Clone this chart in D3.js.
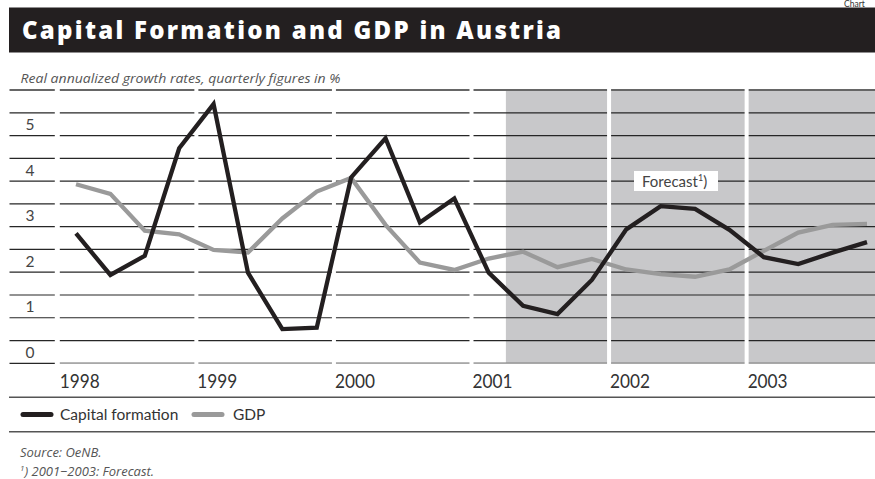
<!DOCTYPE html>
<html>
<head>
<meta charset="utf-8">
<script src="https://cdn.jsdelivr.net/npm/d3@7"></script>
<style>
  html, body { margin: 0; padding: 0; background: #fff; overflow: hidden; }
  svg { display: block; }
</style>
</head>
<body>
<svg id="chart" width="875" height="479"></svg>
<script>
// Quarterly series, 1998 Q1 – 2003 Q4 (real annualized growth, %)
const years = [1998, 1999, 2000, 2001, 2002, 2003];
const quarterLabels = years.flatMap(y => ["Q1", "Q2", "Q3", "Q4"].map(q => `${y} ${q}`));
const capitalFormation = [
  2.85, 1.94, 2.36, 4.72,
  5.69, 1.99, 0.75, 0.78,
  4.08, 4.94, 3.09, 3.62,
  1.99, 1.26, 1.08, 1.83,
  2.94, 3.45, 3.39, 2.93,
  2.33, 2.18, 2.43, 2.66
];
const gdp = [
  3.93, 3.72, 2.91, 2.83,
  2.49, 2.43, 3.18, 3.77,
  4.07, 3.04, 2.21, 2.05,
  2.30, 2.45, 2.11, 2.29,
  2.06, 1.96, 1.90, 2.06,
  2.47, 2.87, 3.04, 3.06
];
const yTickLabels = [0, 1, 2, 3, 4, 5];
const gridValues = d3.range(0, 6.01, 0.5);
const forecastFrom = 2001.25;   // shaded forecast period starts with 2001 Q2
const seriesNames = ["Capital formation", "GDP"];

const svg = d3.select("#chart");
const W = 875;

const x = d3.scaleLinear().domain([1998, 2004]).range([58.8, 884.2]);
const y = d3.scaleLinear().domain([0, 6]).range([363.3, 90]);
const xq = i => x(1998 + (i + 0.5) / 4);

const sans = "Lato, 'Open Sans', sans-serif";

// "Chart" tag at the top right
svg.append("text").attr("x", 844).attr("y", 6.5)
  .attr("font-family", sans).attr("font-size", 8.5).attr("fill", "#333")
  .text("Chart");

// Title bar
svg.append("rect").attr("x", 9).attr("y", 7.5).attr("width", W - 9).attr("height", 45)
  .attr("fill", "#231f20");
svg.append("text").attr("x", 22).attr("y", 38.5)
  .attr("font-family", "'Open Sans', sans-serif").attr("font-weight", 800).attr("font-size", 24)
  .attr("fill", "#fff").attr("textLength", 539).attr("lengthAdjust", "spacing")
  .text("Capital Formation and GDP in Austria");

// Subtitle
svg.append("text").attr("x", 20.5).attr("y", 83)
  .attr("font-family", "'Open Sans', sans-serif").attr("font-style", "italic")
  .attr("font-size", 13.5).attr("fill", "#555")
  .attr("textLength", 320).attr("lengthAdjust", "spacingAndGlyphs")
  .text("Real annualized growth rates, quarterly figures in %");

// Forecast shading
svg.append("rect")
  .attr("x", x(forecastFrom)).attr("y", y(6))
  .attr("width", W - x(forecastFrom)).attr("height", y(0) - y(6))
  .attr("fill", "#c8c8ca");

// Horizontal grid
svg.append("g").selectAll("line").data(gridValues).join("line")
  .attr("x1", 9.5).attr("x2", W)
  .attr("y1", d => y(d)).attr("y2", d => y(d))
  .attr("stroke", d => d === 6 ? "#666" : "#262626")
  .attr("stroke-width", d => d === 6 ? 1.8 : 1.2);
// lighter axis line under the plot
svg.append("line").attr("x1", 58).attr("x2", W).attr("y1", y(0)).attr("y2", y(0))
  .attr("stroke", "#a8a8a8").attr("stroke-width", 1.6);

// White year separators cutting the grid
const sepYears = years.slice(1);
svg.append("g").selectAll("rect").data(sepYears).join("rect")
  .attr("x", d => x(d) - 2).attr("width", 4)
  .attr("y", y(6) - 2).attr("height", y(0) - y(6) + 4)
  .attr("fill", "#fff");
svg.append("rect").attr("x", x(1998) - 4).attr("width", 5)
  .attr("y", y(6) - 2).attr("height", y(0) - y(6) + 4).attr("fill", "#fff");

// Y tick labels, sitting just above their grid line
svg.append("g").selectAll("text").data(yTickLabels).join("text")
  .attr("x", 30).attr("y", d => y(d) - 5.5)
  .attr("text-anchor", "middle")
  .attr("font-family", sans).attr("font-size", 15.5).attr("fill", "#444")
  .text(d => d);

// Year labels
svg.append("g").selectAll("text").data(years).join("text")
  .attr("x", d => x(d) + 1).attr("y", 388)
  .attr("font-family", sans).attr("font-size", 19).attr("fill", "#333")
  .attr("textLength", 40).attr("lengthAdjust", "spacingAndGlyphs")
  .text(d => d);

// Forecast label
const fl = svg.append("g");
fl.append("rect").attr("x", 634).attr("y", 171).attr("width", 84).attr("height", 20)
  .attr("fill", "#fff");
const ft = fl.append("text").attr("x", 642).attr("y", 186.5)
  .attr("font-family", sans).attr("font-size", 15).attr("fill", "#444");
ft.append("tspan").text("Forecast");
ft.append("tspan").attr("font-size", 9).attr("dy", -6).text("1");
ft.append("tspan").attr("dy", 6).text(")");

// Series lines
const line = d3.line().x((d, i) => xq(i)).y(d => y(d)).curve(d3.curveLinear);
svg.append("path").datum(gdp).attr("d", line)
  .attr("fill", "none").attr("stroke", "#9a9a9a").attr("stroke-width", 4.3)
  .attr("stroke-linejoin", "miter");
svg.append("path").datum(capitalFormation).attr("d", line)
  .attr("fill", "none").attr("stroke", "#231f20").attr("stroke-width", 4.3)
  .attr("stroke-linejoin", "miter");

// Rules framing the legend
[397.3, 431.7].forEach(yy => {
  svg.append("line").attr("x1", 9).attr("x2", W).attr("y1", yy).attr("y2", yy)
    .attr("stroke", "#555").attr("stroke-width", 1.4);
});

// Legend
const legendItems = [
  { name: seriesNames[0], color: "#231f20", x0: 23, x1: 51, tx: 60 },
  { name: seriesNames[1], color: "#9a9a9a", x0: 194, x1: 222, tx: 233 }
];
const lg = svg.append("g").selectAll("g").data(legendItems).join("g");
lg.append("line").attr("x1", d => d.x0).attr("x2", d => d.x1)
  .attr("y1", 414.5).attr("y2", 414.5)
  .attr("stroke", d => d.color).attr("stroke-width", 5).attr("stroke-linecap", "round");
lg.append("text").attr("x", d => d.tx).attr("y", 420)
  .attr("font-family", sans).attr("font-size", 15.5).attr("fill", "#333")
  .text(d => d.name);

// Source and footnote
svg.append("text").attr("x", 20).attr("y", 457)
  .attr("font-family", "'Open Sans', sans-serif").attr("font-style", "italic")
  .attr("font-size", 13).attr("fill", "#555")
  .text("Source: OeNB.");
const fn = svg.append("text").attr("x", 20).attr("y", 476)
  .attr("font-family", "'Open Sans', sans-serif").attr("font-style", "italic")
  .attr("font-size", 13).attr("fill", "#555");
fn.append("tspan").attr("font-size", 8).attr("dy", -5).text("1");
fn.append("tspan").attr("dy", 5).text(") 2001\u22122003: Forecast.");
</script>
</body>
</html>
